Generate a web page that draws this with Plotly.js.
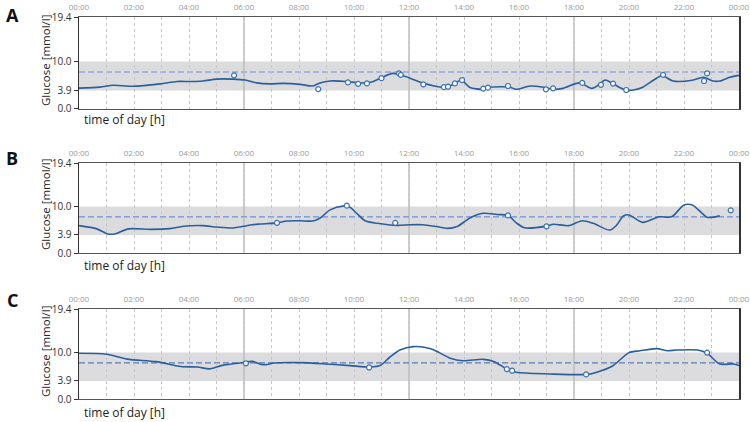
<!DOCTYPE html>
<html>
<head>
<meta charset="utf-8">
<script src="https://cdn.plot.ly/plotly-3.0.1.min.js"></script>
<style>html,body{margin:0;padding:0;background:#fff;}#chart{width:750px;height:422px;}</style>
</head>
<body>
<div id="chart"></div>
<script>
// ---- data ----
const hourTicks = [0,1,2,3,4,5,6,7,8,9,10,11,12,13,14,15,16,17,18,19,20,21,22,23,24];
const hourLabels = ["00:00","","02:00","","04:00","","06:00","","08:00","","10:00","","12:00","","14:00","","16:00","","18:00","","20:00","","22:00","","00:00"];
const yTicks = [0, 3.9, 10, 19.4];
const yLabels = ["0.0", "3.9", "10.0", "19.4"];
const targetLow = 3.9, targetHigh = 10.0;
const panelNames = ["A", "B", "C"];

const hA = [0,0.76,1.24,1.96,2.95,3.56,4.04,4.5,5.0,5.6,6.04,6.47,6.95,7.43,8.04,8.5,8.76,9.13,9.74,10.2,10.65,11.0,11.4,11.67,12.04,12.5,13.25,13.6,13.9,14.2,14.7,14.95,15.4,15.67,15.9,16.4,16.9,17.25,17.6,18.2,18.65,18.9,19.13,19.4,19.8,20.15,20.5,20.9,21.2,21.6,22.3,22.7,23.05,23.3,23.67,24.0];
const gA = [4.4,4.6,5.0,4.8,5.3,5.8,5.8,5.9,6.3,6.3,6.1,5.5,5.3,5.4,5.2,4.85,5.5,5.9,5.8,5.5,5.7,6.6,7.5,7.2,6.5,5.5,4.6,5.1,6.1,4.6,4.15,4.6,4.7,4.6,4.15,4.85,4.6,4.15,4.35,5.5,4.35,5.1,6.1,5.4,4.15,4.0,4.6,6.1,7.0,5.9,6.05,6.7,5.9,5.9,6.7,7.1];
const mAx = [5.64,8.7,9.78,10.15,10.47,11.0,11.64,11.7,12.52,13.27,13.42,13.67,13.93,14.7,14.87,15.6,16.98,17.24,18.3,18.98,19.42,19.9,21.24,22.73,22.84];
const mAy = [7.1,4.2,5.6,5.3,5.4,6.5,7.5,7.2,5.2,4.6,4.7,5.4,6.1,4.3,4.5,4.85,4.15,4.35,5.5,5.1,5.35,4.0,7.2,5.9,7.5];
const meanA = 7.8;

const hB = [0,0.65,1.05,1.3,1.8,2.6,3.3,3.8,4.5,5.0,5.6,5.97,6.3,6.6,7.2,7.55,8.04,8.5,8.76,9.13,9.6,9.85,10.1,10.4,10.84,11.56,12.04,12.5,13.0,13.4,13.75,14.2,14.7,15.2,15.6,15.9,16.2,17.0,17.25,17.8,18.3,18.7,19.3,19.55,19.8,20.0,20.5,21.1,21.55,22.0,22.3,22.84,23.05,23.3];
const gB = [5.9,5.2,4.1,4.1,5.2,5.1,5.25,5.75,5.9,5.6,5.4,5.75,6.1,6.25,6.5,6.9,6.95,6.9,7.5,9.3,10.1,9.85,8.55,6.95,6.4,5.95,6.1,6.1,5.7,5.3,5.7,7.5,8.55,8.3,8.1,6.5,5.45,5.8,6.2,5.9,6.95,6.4,4.95,6.0,8.0,8.2,6.6,7.8,7.8,10.35,10.35,7.7,7.7,8.0];
const mBx = [7.2,9.74,11.5,15.6,17.0,23.7];
const mBy = [6.5,10.2,6.5,8.1,5.75,9.2];
const meanB = 7.8;

const hC = [0,1.0,1.75,2.8,3.7,4.3,4.76,5.25,5.97,6.3,6.6,6.8,7.07,8.04,9.0,9.85,10.6,10.95,11.3,11.67,12.15,12.76,13.1,13.5,13.96,14.7,15.1,15.56,15.75,15.9,17.1,18.5,18.8,19.4,20.0,20.4,21.0,21.4,21.75,22.5,22.84,23.3,23.8,24.0];
const gC = [9.85,9.65,8.6,8.05,7.0,6.9,6.5,7.3,7.85,8.1,7.5,7.4,7.75,7.85,7.55,7.2,6.9,7.2,9.0,10.55,11.3,10.9,10.0,8.8,8.25,8.55,8.05,6.45,6.1,5.75,5.4,5.3,5.7,7.1,10.0,10.4,10.85,10.4,10.55,10.55,9.85,7.55,7.55,7.2];
const mCx = [6.07,10.55,15.56,15.75,18.44,22.84];
const mCy = [7.7,6.8,6.45,6.1,5.3,10.0];
const meanC = 7.8;

// ---- build ----
const lineColor = "#2a5f9e";
const panels = [
  {h: hA, g: gA, mx: mAx, my: mAy, mean: meanA, dom: [0.7592, 1], meanColor: "#6a8fe0"},
  {h: hB, g: gB, mx: mBx, my: mBy, mean: meanB, dom: [0.3822, 0.6178], meanColor: "#6a8fd8"},
  {h: hC, g: gC, mx: mCx, my: mCy, mean: meanC, dom: [0, 0.2356], meanColor: "#5a7cb8"}
];
const W = 750, H = 422, mL = 79, mR = 11, mT = 17, mB = 23;
const pw = W - mL - mR, ph = H - mT - mB;
const px = x => (x - mL) / pw;
const py = y => (H - mB - y) / ph;

const traces = [];
const shapes = [];
const layout = {
  width: W, height: H,
  margin: {l: mL, r: mR, t: mT, b: mB},
  paper_bgcolor: "#fff", plot_bgcolor: "#fff",
  showlegend: false,
  font: {family: "Open Sans, DejaVu Sans, sans-serif", color: "#222"},
  annotations: []
};
const letterY = [15, 158, 300];
const xtitleY = [120, 265, 412];
const ytitleY = [61, 205, 352];

panels.forEach((p, i) => {
  const xa = i === 0 ? "x" : "x" + (i + 1);
  const ya = i === 0 ? "y" : "y" + (i + 1);
  const xk = i === 0 ? "xaxis" : "xaxis" + (i + 1);
  const yk = i === 0 ? "yaxis" : "yaxis" + (i + 1);
  layout[xk] = {
    anchor: ya, domain: [0, 1], range: [0, 24], side: "top",
    tickmode: "array", tickvals: hourTicks, ticktext: hourLabels,
    ticks: "", tickfont: {size: 8, color: "#9a9a9a"}, ticklabelstandoff: 3,
    showgrid: true, gridcolor: "#c6c6c6", gridwidth: 1, griddash: "3px,3px",
    showline: true, linecolor: "#555", linewidth: 1.3, mirror: true, zeroline: false
  };
  layout[yk] = {
    anchor: xa, domain: p.dom, range: [0, 19.4],
    tickmode: "array", tickvals: yTicks, ticktext: yLabels,
    ticks: "outside", ticklen: 4, tickcolor: "#333", tickwidth: 1,
    tickfont: {size: 10, color: "#333"},
    showgrid: false, zeroline: false,
    showline: true, linecolor: "#333", linewidth: 1.5, mirror: true
  };
  shapes.push({type: "rect", xref: xa, yref: ya, x0: 0, x1: 24, y0: targetLow, y1: targetHigh,
    fillcolor: "#dcdcde", line: {width: 0}, layer: "below"});
  [6, 12, 18].forEach(hh => shapes.push({type: "line", xref: xa, yref: ya, x0: hh, x1: hh, y0: 0, y1: 19.4,
    line: {color: "#bdbdbd", width: 1.5}, layer: "below"}));
  shapes.push({type: "line", xref: xa, yref: ya, x0: 0, x1: 24, y0: p.mean, y1: p.mean,
    line: {color: p.meanColor, width: 1.2, dash: "6px,3px"}, layer: "below"});
  traces.push({x: p.h, y: p.g, xaxis: xa, yaxis: ya, type: "scatter", mode: "lines",
    line: {color: lineColor, width: 1.6, shape: "spline", smoothing: 0.8}, hoverinfo: "skip"});
  traces.push({x: p.mx, y: p.my, xaxis: xa, yaxis: ya, type: "scatter", mode: "markers",
    marker: {symbol: "circle", size: 5, color: "#fff", line: {color: "#3a72b4", width: 1.2}}, hoverinfo: "skip"});
  layout.annotations.push({xref: "paper", yref: "paper", x: px(12), y: py(letterY[i]), text: "<b>" + panelNames[i] + "</b>",
    showarrow: false, font: {size: 18, color: "#111", family: "Open Sans, DejaVu Sans, sans-serif"}, xanchor: "center", yanchor: "middle"});
  layout.annotations.push({xref: "paper", yref: "paper", x: px(124), y: py(xtitleY[i]), text: "time of day [h]",
    showarrow: false, font: {size: 12, color: "#222"}, xanchor: "center", yanchor: "middle"});
  layout.annotations.push({xref: "paper", yref: "paper", x: px(45), y: py(ytitleY[i]), text: "Glucose [mmol/l]",
    textangle: -90, showarrow: false, font: {size: 11.5, color: "#222"}, xanchor: "center", yanchor: "middle"});
});
layout.shapes = shapes;

Plotly.newPlot("chart", traces, layout, {displayModeBar: false, staticPlot: true});
</script>
</body>
</html>
